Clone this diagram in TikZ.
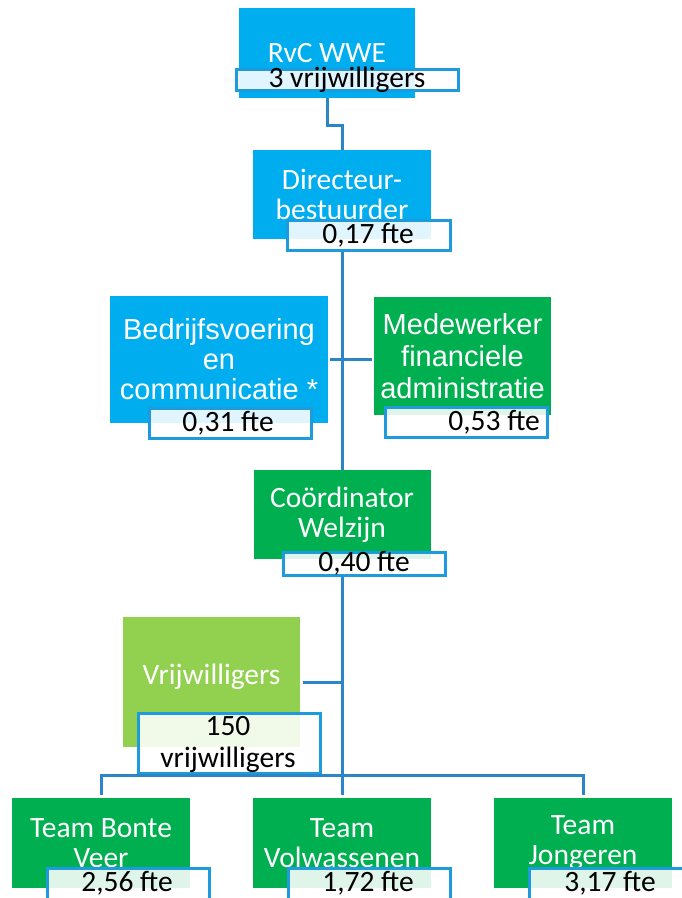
\documentclass[tikz,border=0pt]{standalone}
\usepackage{fontspec}
\setmainfont{Carlito}
\newfontfamily\arialf{Liberation Sans}
\definecolor{boxblue}{HTML}{00AEEF}
\definecolor{boxgreen}{HTML}{00B050}
\definecolor{boxlgreen}{HTML}{92D050}
\definecolor{labblue}{HTML}{1E9BDC}
\definecolor{connblue}{HTML}{2A86C6}
\begin{document}
\begin{tikzpicture}[x=1pt,y=-1pt,
  box/.style={rectangle, inner sep=0pt, text=white, align=center,
    font=\fontsize{29.5}{30}\selectfont},
  bluebox/.style={box, fill=boxblue},
  greenbox/.style={box, fill=boxgreen},
  lgreenbox/.style={box, fill=boxlgreen},
  arialbox/.style={font=\arialf\fontsize{29}{30}\selectfont},
  lab/.style={rectangle, inner sep=0pt, draw=labblue, line width=3pt,
    fill=white, fill opacity=0.88, text opacity=1},
  labtxt/.style={inner sep=0pt, text=black, align=center,
    font=\fontsize{29.5}{32}\selectfont},
  conn/.style={draw=connblue, line width=3pt}
]
\useasboundingbox (0,0) rectangle (682,898);
\clip (0,0) rectangle (682,898);

% boxes
\node[bluebox, minimum width=176pt, minimum height=90pt] (rvc) at (327,53) {RvC WWE};
\node[bluebox, minimum width=178pt, minimum height=89pt] (dir) at (342,194.5) {Directeur-\\bestuurder};
\node[bluebox, arialbox, minimum width=218pt, minimum height=127pt] (bed) at (219,359.5) {Bedrijfsvoering\\en\\communicatie *};
\node[greenbox, font=\arialf\fontsize{29}{32}\selectfont, minimum width=177pt, minimum height=118pt] (med) at (462.5,356) {Medewerker\\financiele\\administratie};
\node[greenbox, minimum width=177pt, minimum height=89pt] (coord) at (342,514.5) {Coördinator\\Welzijn};
\node[lgreenbox, minimum width=177pt, minimum height=130pt] (vrij) at (211.5,682) {};
\node[box] (vrijT) at (211.5,677) {Vrijwilligers};
\node[greenbox, minimum width=178pt, minimum height=90pt] (tb) at (101,843) {Team Bonte\\Veer};
\node[greenbox, minimum width=178pt, minimum height=90pt] (tv) at (342,843) {Team\\Volwassenen};
\node[greenbox, minimum width=178pt, minimum height=90pt] (tj) at (583,843) {Team\\Jongeren};

% labels
\node[lab, minimum width=222pt, minimum height=21pt] (rvcL) at (347,80) {};
\node[labtxt] (rvcT) at (347,80) {3 vrijwilligers};
\node[lab, minimum width=163pt, minimum height=30pt] (dirL) at (368.5,235) {};
\node[labtxt] (dirT) at (368,235) {0,17 fte};
\node[lab, minimum width=162pt, minimum height=30pt] (bedL) at (230,423) {};
\node[labtxt] (bedT) at (228,423) {0,31 fte};
\node[lab, minimum width=162pt, minimum height=30pt] (medL) at (466,422) {};
\node[labtxt, anchor=east] (medT) at (540,422) {0,53 fte};
\node[lab, minimum width=162pt, minimum height=23pt] (coordL) at (364,563.5) {};
\node[labtxt] (coordT) at (364,563) {0,40 fte};
\node[lab, minimum width=182pt, minimum height=60pt] (vrijL) at (229,743) {};
\node[labtxt] (vrijLT) at (228,744) {150\\vrijwilligers};
\node[lab, minimum width=162pt, minimum height=40pt] (tbL) at (128,888) {};
\node[labtxt] (tbT) at (127,883) {2,56 fte};
\node[lab, minimum width=162pt, minimum height=40pt] (tvL) at (369,888) {};
\node[labtxt] (tvT) at (368,883) {1,72 fte};
\node[lab, minimum width=162pt, minimum height=40pt] (tjL) at (610,888) {};
\node[labtxt] (tjT) at (610,883) {3,17 fte};

% connectors
\coordinate (bar) at (342,775);
\draw[conn] (rvc.south) -- ++(0,27) -| (dir.north);
\draw[conn] (dir.south |- dirL.south) -- (coord.north);
\draw[conn, shorten <=2pt, shorten >=2pt] (bed.east) -- (bed.east -| med.west);
\draw[conn] (coord.south |- coordL.south) -- (bar);
\draw[conn] ([xshift=3pt]vrij.east) -- (vrij.east -| coord.south);
\draw[conn] ([yshift=3pt]tb.north) |- (bar) -| ([yshift=3pt]tj.north);
\draw[conn] (bar) -- ([yshift=3pt]tv.north);
\end{tikzpicture}
\end{document}
